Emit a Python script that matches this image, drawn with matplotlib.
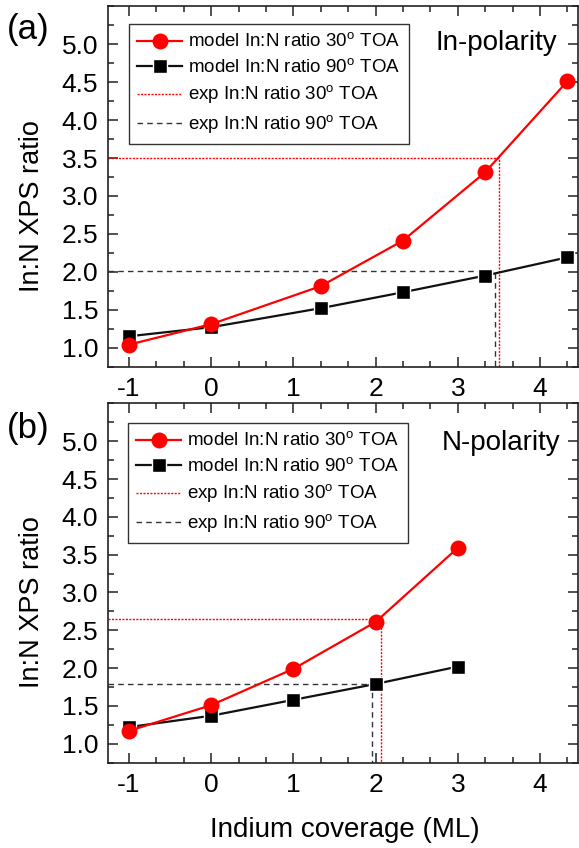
import matplotlib
matplotlib.use("Agg")
import matplotlib.pyplot as plt
from matplotlib.ticker import MultipleLocator, FixedLocator, FormatStrFormatter

plt.rcParams['font.family'] = ['Liberation Sans', 'DejaVu Sans']
plt.rcParams['mathtext.fontset'] = 'custom'
plt.rcParams['mathtext.rm'] = 'Liberation Sans'
plt.rcParams['axes.unicode_minus'] = False

# --- data ---
# (a) In-polarity
x_a = [-1, 0, 1.33, 2.33, 3.33, 4.33]
red_a = [1.04, 1.31, 1.81, 2.41, 3.31, 4.51]
blk_a = [1.15, 1.27, 1.52, 1.73, 1.95, 2.19]
exp30_a = (3.50, 3.50)   # (coverage, ratio)
exp90_a = (3.45, 2.01)

# (b) N-polarity
x_b = [-1, 0, 1, 2, 3]
red_b = [1.17, 1.51, 1.99, 2.61, 3.59]
blk_b = [1.22, 1.37, 1.58, 1.79, 2.02]
exp30_b = (2.06, 2.65)
exp90_b = (1.95, 1.79)

y_ticks = [1.0, 1.5, 2.0, 2.5, 3.0, 3.5, 4.0, 4.5, 5.0]

panels = [
    ("(a)", "In-polarity", x_a, red_a, blk_a, exp30_a, exp90_a),
    ("(b)", "N-polarity", x_b, red_b, blk_b, exp30_b, exp90_b),
]

labels = ["model In:N ratio 30$^\\mathrm{o}$ TOA",
          "model In:N ratio 90$^\\mathrm{o}$ TOA",
          "exp In:N ratio 30$^\\mathrm{o}$ TOA",
          "exp In:N ratio 90$^\\mathrm{o}$ TOA"]

xmin, xmax = -1.256, 4.462
ymin, ymax = 0.745, 5.505

W, H = 579, 848
fig = plt.figure(figsize=(W / 100, H / 100), dpi=100)

# axes boxes in pixels: left, top, right, bottom
boxes = [(108, 6, 578, 367), (108, 403, 578, 763)]
tag_tops = [13, 412]
txt_pos = [(0.955, 0.878), (0.962, 0.870)]
leg_pos = [(0.0447, 0.950), (0.0426, 0.944)]

axes = []
for i, (tag, pol, xs, red, blk, e30, e90) in enumerate(panels):
    l, t, r, b = boxes[i]
    ax = fig.add_axes([l / W, 1 - b / H, (r - l) / W, (b - t) / H])
    axes.append(ax)

    ax.plot(xs, blk, color='#111111', lw=1.6, marker='s', ms=9.5,
            mfc='black', mec='white', mew=1.0, label=labels[1], zorder=3)
    ax.plot(xs, red, color='red', lw=1.6, marker='o', ms=11.5,
            mfc='red', mec='red', mew=0, label=labels[0], zorder=4)

    ax.plot([xmin, e30[0], e30[0]], [e30[1], e30[1], ymin], color='red',
            lw=1.0, ls=(0, (1.5, 1)), label=labels[2], zorder=2)
    ax.plot([xmin, e90[0], e90[0]], [e90[1], e90[1], ymin], color='#333333',
            lw=1.0, ls=(0, (4, 3)), label=labels[3], zorder=2)

    ax.set_xlim(xmin, xmax)
    ax.set_ylim(ymin, ymax)
    ax.xaxis.set_major_locator(MultipleLocator(1))
    ax.xaxis.set_minor_locator(MultipleLocator(1 / 3))
    ax.yaxis.set_major_locator(FixedLocator(y_ticks))
    ax.yaxis.set_minor_locator(MultipleLocator(0.25))
    ax.yaxis.set_major_formatter(FormatStrFormatter('%.1f'))
    ax.tick_params(which='both', direction='in', top=True, right=True,
                   color='#222222', width=1.1, labelsize=19)
    ax.tick_params(which='major', length=7, pad=7)
    ax.tick_params(which='minor', length=4)
    for s in ax.spines.values():
        s.set_linewidth(1.2)
        s.set_color('#222222')

    ax.set_ylabel("In:N XPS ratio", fontsize=19.5)
    ax.yaxis.set_label_coords(-0.134, 0.446)

    ax.text(txt_pos[i][0], txt_pos[i][1], pol, transform=ax.transAxes,
            ha='right', va='baseline', fontsize=20)
    fig.text(7 / W, 1 - tag_tops[i] / H, tag, ha='left', va='top', fontsize=25)

    h, lb = ax.get_legend_handles_labels()
    order = [1, 0, 2, 3]
    leg = ax.legend([h[k] for k in order], [lb[k] for k in order],
                    loc='upper left', bbox_to_anchor=leg_pos[i],
                    borderaxespad=0, fontsize=13.5, fancybox=False,
                    edgecolor='#333333', framealpha=1, handlelength=2.4,
                    handletextpad=0.3, labelspacing=0.36, borderpad=0.45)
    leg.get_frame().set_linewidth(1.0)

axes[1].set_xlabel("Indium coverage (ML)", fontsize=20)
axes[1].xaxis.set_label_coords(0.504, -0.149)

fig.savefig("out.png", dpi=100)
